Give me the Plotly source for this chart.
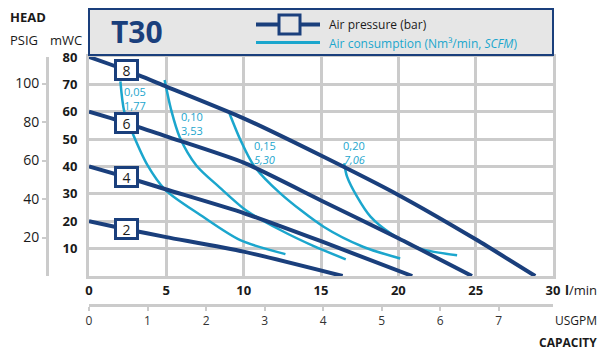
import numpy as np
import plotly.graph_objects as go

NAVY = "#1a3f7c"
CYAN = "#1ba6cd"
GRID = "#cbcbcb"
TEXT = "#1a1a1a"
FONT = "Open Sans"

# air pressure curves (bar): flow l/min vs head mWC
pressure_bar = ["8", "6", "4", "2"]
flow_8 = [0, 2.4, 5, 10, 15, 20, 25, 28.85]
head_8 = [80, 75.2, 69.2, 57.6, 44, 29.6, 13.4, 0]
flow_6 = [0, 2.6, 5, 10, 15, 20, 24.76]
head_6 = [60, 55.6, 51, 41.4, 27.6, 13.8, 0]
flow_4 = [0, 2.4, 5, 10, 15, 20.9]
head_4 = [40, 36.1, 31.6, 23, 12.7, 0]
flow_2 = [0, 2.4, 5, 10, 16.4]
head_2 = [20, 17.1, 14.2, 8.9, 0]

# air consumption curves
cons_nm3 = ["0,05", "0,10", "0,15", "0,20"]
cons_scfm = ["1,77", "3,53", "5,30", "7,06"]
c05_x = [2.03, 2.28, 2.86, 3.77, 4.93, 7.2, 9.78, 12.7]
c05_y = [71.1, 60.1, 51.6, 40.6, 31.5, 22.3, 13.1, 8]
c10_x = [4.89, 5.32, 5.86, 6.94, 8.44, 10.17, 12.37, 14.5, 16.6]
c10_y = [71.6, 60.5, 50.8, 40.4, 32.4, 23.9, 16.8, 11, 6.1]
c15_x = [9.09, 9.8, 10.65, 12.37, 15.17, 17.75, 20.12]
c15_y = [59.3, 49.6, 40.4, 30.2, 18, 10.6, 6.4]
c20_x = [16.5, 16.68, 17.33, 18.2, 19.5, 21.4, 23.8]
c20_y = [41.2, 36.4, 29, 21.7, 15.6, 10, 7.6]

flow_ticks = [0, 5, 10, 15, 20, 25, 30]
head_ticks = [10, 20, 30, 40, 50, 60, 70, 80]
psig_ticks = [20, 40, 60, 80, 100]
usgpm_ticks = [0, 1, 2, 3, 4, 5, 6, 7]
MWC_TO_PSI = 1.4223
LPM_PER_USGPM = 3.785

W, H = 598, 352
L, R, T, B = 47, 553, 57, 305


def px(x):
    return (x - L) / (R - L)


def py(y):
    return (B - y) / (B - T)


fig = go.Figure()

for xs, ys in [(c05_x, c05_y), (c10_x, c10_y), (c15_x, c15_y), (c20_x, c20_y)]:
    fig.add_trace(go.Scatter(x=xs, y=ys, mode="lines", line=dict(color=CYAN, width=2.5, shape="spline", smoothing=0.8),
                             hoverinfo="skip", showlegend=False))

pressure_lines = [(flow_8, head_8), (flow_6, head_6), (flow_4, head_4), (flow_2, head_2)]
for xs, ys in pressure_lines:
    fig.add_trace(go.Scatter(x=xs, y=ys, mode="lines", line=dict(color=NAVY, width=4, shape="spline", smoothing=0.6),
                             hoverinfo="skip", showlegend=False))

# boxed bar labels sitting on each pressure line
label_flow = 2.4
for name, (xs, ys) in zip(pressure_bar, pressure_lines):
    fig.add_annotation(x=label_flow, y=float(np.interp(label_flow, xs, ys)), text=name, showarrow=False,
                       font=dict(family=FONT, size=14, color=TEXT), bgcolor="white", bordercolor=NAVY,
                       borderwidth=3, borderpad=1, width=17, height=14)

# consumption labels near the top of each curve
cons_pos = [(3.0, 67.3), (6.65, 58.1), (11.35, 47.7), (17.15, 47.7)]
for i, (nm3, scfm) in enumerate(zip(cons_nm3, cons_scfm)):
    x, y = cons_pos[i]
    second = f"<i>{scfm}</i>" if i >= 2 else scfm
    fig.add_annotation(x=x, y=y, text=nm3, showarrow=False, font=dict(family=FONT, size=11, color=CYAN))
    fig.add_annotation(x=x, y=y - 5.1, text=second, showarrow=False, font=dict(family=FONT, size=11, color=CYAN))

# helper traces for the secondary axes
fig.add_trace(go.Scatter(x=[None], y=[None], xaxis="x2", yaxis="y", showlegend=False))
fig.add_trace(go.Scatter(x=[None], y=[None], xaxis="x", yaxis="y2", showlegend=False))

x_dom = [px(89), 1]
y_dom = [py(276), 1]
fig.update_layout(
    width=W, height=H,
    margin=dict(l=L, r=W - R, t=T, b=H - B),
    paper_bgcolor="white", plot_bgcolor="white",
    font=dict(family=FONT, color=TEXT),
    xaxis=dict(domain=x_dom, range=[0, 30], tickvals=flow_ticks, ticktext=[f"<b>{t}</b>" for t in flow_ticks],
               showgrid=True, gridcolor=GRID, gridwidth=3, zeroline=False, showline=True, linecolor=GRID,
               linewidth=3, mirror=True, ticks="", tickfont=dict(size=13, color=TEXT), anchor="y"),
    yaxis=dict(domain=y_dom, range=[0, 80], tickvals=head_ticks, ticktext=[f"<b>{t}</b>" for t in head_ticks],
               showgrid=True, gridcolor=GRID, gridwidth=3, zeroline=False, showline=True, linecolor=GRID,
               linewidth=3, mirror=True, ticks="", ticklabelstandoff=6, tickfont=dict(size=13, color=TEXT),
               anchor="x"),
    xaxis2=dict(overlaying="x", anchor="free", position=0, side="bottom",
                range=[0, 30 / LPM_PER_USGPM], tickvals=usgpm_ticks, showgrid=False, zeroline=False,
                showline=True, linecolor=GRID, linewidth=3, ticks="outside", ticklen=4, tickwidth=1.5,
                tickcolor=GRID, tickfont=dict(size=12, color="#333333")),
    yaxis2=dict(overlaying="y", anchor="free", position=0, side="left",
                range=[0, 80 * MWC_TO_PSI], tickvals=psig_ticks, showgrid=False, zeroline=False,
                showline=True, linecolor=GRID, linewidth=3, ticks="outside", ticklen=4, tickwidth=1.5,
                tickcolor=GRID, tickfont=dict(size=14, color=TEXT)),
)


def note(text, x, y, size, color=TEXT, xanchor="center"):
    fig.add_annotation(xref="paper", yref="paper", x=px(x), y=py(y), xanchor=xanchor, yanchor="middle",
                       text=text, showarrow=False, font=dict(family=FONT, size=size, color=color))


# header box with model name and legend
fig.add_shape(type="rect", xref="paper", yref="paper", x0=px(89), x1=px(553), y0=py(55), y1=py(9),
              fillcolor="#e6e6e6", line=dict(color=NAVY, width=2), layer="above")
note("<b>T30</b>", 137, 31, 30, NAVY)
fig.add_shape(type="line", xref="paper", yref="paper", x0=px(256), x1=px(320), y0=py(24.5), y1=py(24.5),
              line=dict(color=NAVY, width=4), layer="above")
fig.add_shape(type="rect", xref="paper", yref="paper", x0=px(279), x1=px(300), y0=py(34), y1=py(15),
              fillcolor="#e6e6e6", line=dict(color=NAVY, width=3), layer="above")
fig.add_shape(type="line", xref="paper", yref="paper", x0=px(256), x1=px(320), y0=py(42.5), y1=py(42.5),
              line=dict(color=CYAN, width=3), layer="above")
note("Air pressure (bar)", 327, 25, 12, TEXT, "left")
note("Air consumption (Nm³/min, <i>SCFM</i>)", 327, 43, 12, CYAN, "left")

# axis captions
note("<b>HEAD</b>", 8, 17, 13, TEXT, "left")
note("PSIG", 8, 40, 13, TEXT, "left")
note("mWC", 48, 40, 13, TEXT, "left")
note("<b>l</b>/min", 599, 290, 13, TEXT, "right")
note("USGPM", 599, 320, 12, TEXT, "right")
note("<b>CAPACITY</b>", 599, 342, 12, TEXT, "right")

# drop the default page margin so the figure sits at the window origin
fig.write_html("out.html", config={"displayModeBar": False},
               post_script="document.body.style.margin='0';")
